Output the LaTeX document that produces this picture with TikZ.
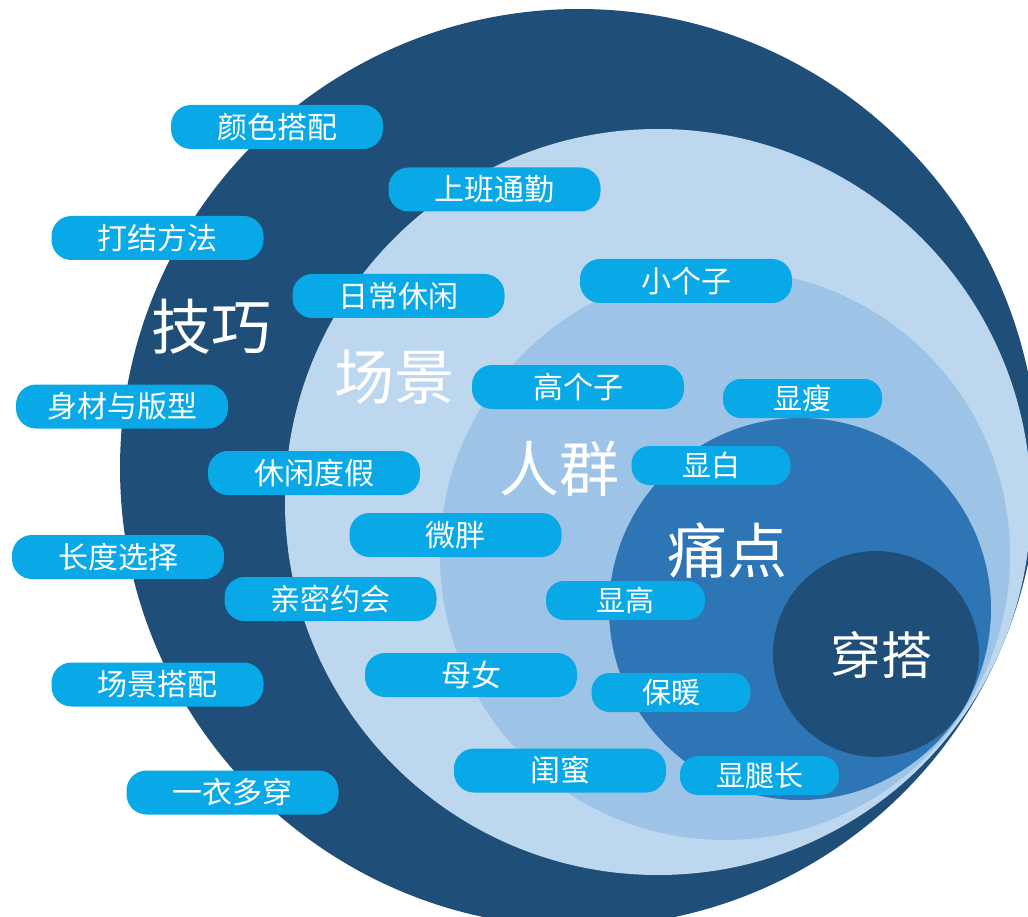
\documentclass[tikz,border=0pt]{standalone}
\usepackage{fontspec}
\setmainfont{Noto Sans CJK SC}
\definecolor{navy}{HTML}{1F4E79}
\definecolor{lightb}{HTML}{BDD7EE}
\definecolor{midb}{HTML}{9DC3E6}
\definecolor{blueb}{HTML}{2E75B6}
\definecolor{pillc}{HTML}{08A9E6}
\tikzset{
  bigpill/.style={fill=pillc, rounded corners=20pt, minimum width=212pt, minimum height=44pt,
    inner sep=0pt, text=white, font=\fontsize{30}{30}\selectfont},
  smallpill/.style={fill=pillc, rounded corners=18pt, minimum width=159pt, minimum height=39pt,
    inner sep=0pt, text=white, font=\fontsize{29}{29}\selectfont},
  biglabel/.style={text=white, inner sep=0pt, font=\fontsize{60}{60}\selectfont},
}
\begin{document}
\begin{tikzpicture}[x=1pt,y=-1pt]
\path[use as bounding box] (0,0) rectangle (1028,917);
\clip (0,0) rectangle (1028,917);
% nested circles
\fill[navy]   (579,468) circle[radius=459];
\fill[lightb] (658,502) circle[radius=373];
\fill[midb]   (725,555) circle[radius=285];
\fill[blueb]  (800,609) circle[radius=191];
\fill[navy]   (876,654) circle[radius=103];
% big labels
\node[biglabel] (l1) at (211,327) {技巧};
\node[biglabel] (l2) at (394,377) {场景};
\node[biglabel] (l3) at (559,469) {人群};
\node[biglabel] (l4) at (727,551) {痛点};
\node[biglabel, font=\fontsize{51}{51}\selectfont] (l5) at (881,655) {穿搭};
% pills
\node[bigpill] (p1) at (277,127) {颜色搭配};
\node[bigpill] (p2) at (494.5,189.5) {上班通勤};
\node[bigpill] (p3) at (157.5,238) {打结方法};
\node[bigpill] (p4) at (398.5,296) {日常休闲};
\node[bigpill] (p5) at (686,281) {小个子};
\node[bigpill] (p6) at (578,387) {高个子};
\node[smallpill] (p7) at (802.5,398.5) {显瘦};
\node[bigpill] (p8) at (122,406.5) {身材与版型};
\node[bigpill] (p9) at (314,473) {休闲度假};
\node[smallpill] (p10) at (711,465.5) {显白};
\node[bigpill] (p11) at (455.5,535) {微胖};
\node[bigpill] (p12) at (118,557) {长度选择};
\node[bigpill] (p13) at (330.5,599) {亲密约会};
\node[smallpill] (p14) at (625.5,600.5) {显高};
\node[bigpill] (p15) at (471,675) {母女};
\node[bigpill] (p16) at (157.5,684.5) {场景搭配};
\node[smallpill] (p17) at (671,692.5) {保暖};
\node[bigpill] (p18) at (560,770.5) {闺蜜};
\node[smallpill] (p19) at (759.5,775.5) {显腿长};
\node[bigpill] (p20) at (232.5,792.5) {一衣多穿};
\end{tikzpicture}
\end{document}
